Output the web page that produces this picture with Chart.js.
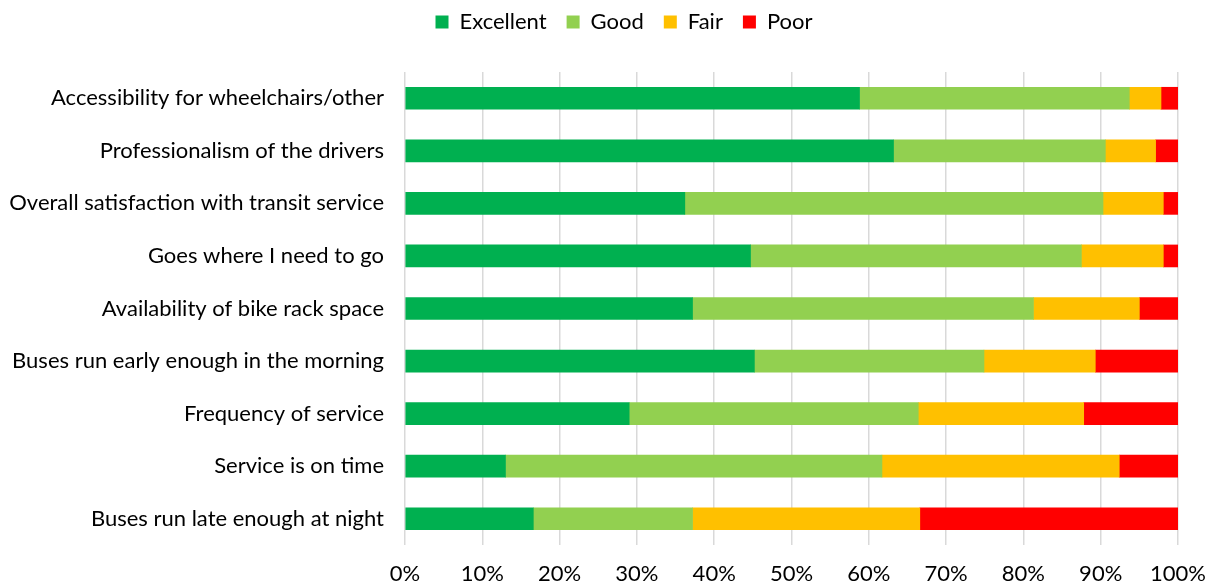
<!DOCTYPE html>
<html lang="en">
<head>
<meta charset="UTF-8">
<title>Transit service ratings</title>
<script src="https://cdn.jsdelivr.net/npm/chart.js"></script>
<style>
  html, body { margin: 0; padding: 0; background: #fff; }
  #wrap { width: 1211px; height: 584px; }
</style>
</head>
<body>
<div id="wrap"><canvas id="ratingsChart" width="1211" height="584"></canvas></div>
<script>
// Survey categories, top to bottom
const categories = [
  "Accessibility for wheelchairs/other",
  "Professionalism of the drivers",
  "Overall satisfaction with transit service",
  "Goes where I need to go",
  "Availability of bike rack space",
  "Buses run early enough in the morning",
  "Frequency of service",
  "Service is on time",
  "Buses run late enough at night"
];

// Share of responses (%) per rating
const excellent = [58.8, 63.2, 36.2, 44.7, 37.2, 45.2, 29.0, 13.0, 16.6];
const good      = [34.9, 27.4, 54.1, 42.8, 44.1, 29.7, 37.4, 48.7, 20.6];
const fair      = [4.1, 6.5, 7.8, 10.6, 13.7, 14.4, 21.4, 30.7, 29.4];
const poor      = [2.2, 2.9, 1.9, 1.9, 5.0, 10.7, 12.2, 7.6, 33.4];

const xTicks = [0, 10, 20, 30, 40, 50, 60, 70, 80, 90, 100];

const FONT = "Lato, 'DejaVu Sans', sans-serif";

// push the plot down below the legend, and nudge the legend right a bit
const legendGap = {
  id: "legendGap",
  beforeInit(chart) {
    const fit = chart.legend.fit;
    chart.legend.fit = function () {
      fit.bind(chart.legend)();
      this.height = 81;
    };
  },
  afterLayout(chart) {
    chart.legend.left += 35;
    chart.legend.right += 35;
  }
};

new Chart(document.getElementById("ratingsChart"), {
  type: "bar",
  data: {
    labels: categories,
    datasets: [
      { label: "Excellent", data: excellent, backgroundColor: "#00B050" },
      { label: "Good", data: good, backgroundColor: "#92D050" },
      { label: "Fair", data: fair, backgroundColor: "#FFC000" },
      { label: "Poor", data: poor, backgroundColor: "#FF0000" }
    ]
  },
  options: {
    indexAxis: "y",
    responsive: false,
    animation: false,
    layout: { padding: { left: 0, right: 33, top: -9, bottom: 0 } },
    datasets: { bar: { barThickness: 22, borderWidth: 0 } },
    plugins: {
      legend: {
        position: "top",
        align: "center",
        labels: {
          boxWidth: 13,
          boxHeight: 13,
          padding: 20,
          color: "#000",
          font: { family: FONT, size: 22 }
        }
      },
      tooltip: { enabled: false }
    },
    scales: {
      x: {
        stacked: true,
        min: 0,
        max: 100,
        afterBuildTicks(scale) {
          scale.ticks = xTicks.map((v) => ({ value: v }));
        },
        afterFit(scale) {
          scale.height = 39;
          scale.paddingLeft = 0;
          scale.paddingRight = 0;
        },
        ticks: {
          padding: 16,
          color: "#000",
          font: { family: FONT, size: 22 },
          maxRotation: 0,
          callback: (v) => v + "%"
        },
        grid: { color: "#d9d9d9", lineWidth: 1.5, drawTicks: false },
        border: { display: false }
      },
      y: {
        stacked: true,
        afterFit(scale) { scale.width = 405; },
        ticks: {
          padding: 21,
          color: "#000",
          font: { family: FONT, size: 22 }
        },
        grid: { display: false, drawTicks: false },
        border: { display: false }
      }
    }
  },
  plugins: [legendGap]
});
</script>
</body>
</html>
